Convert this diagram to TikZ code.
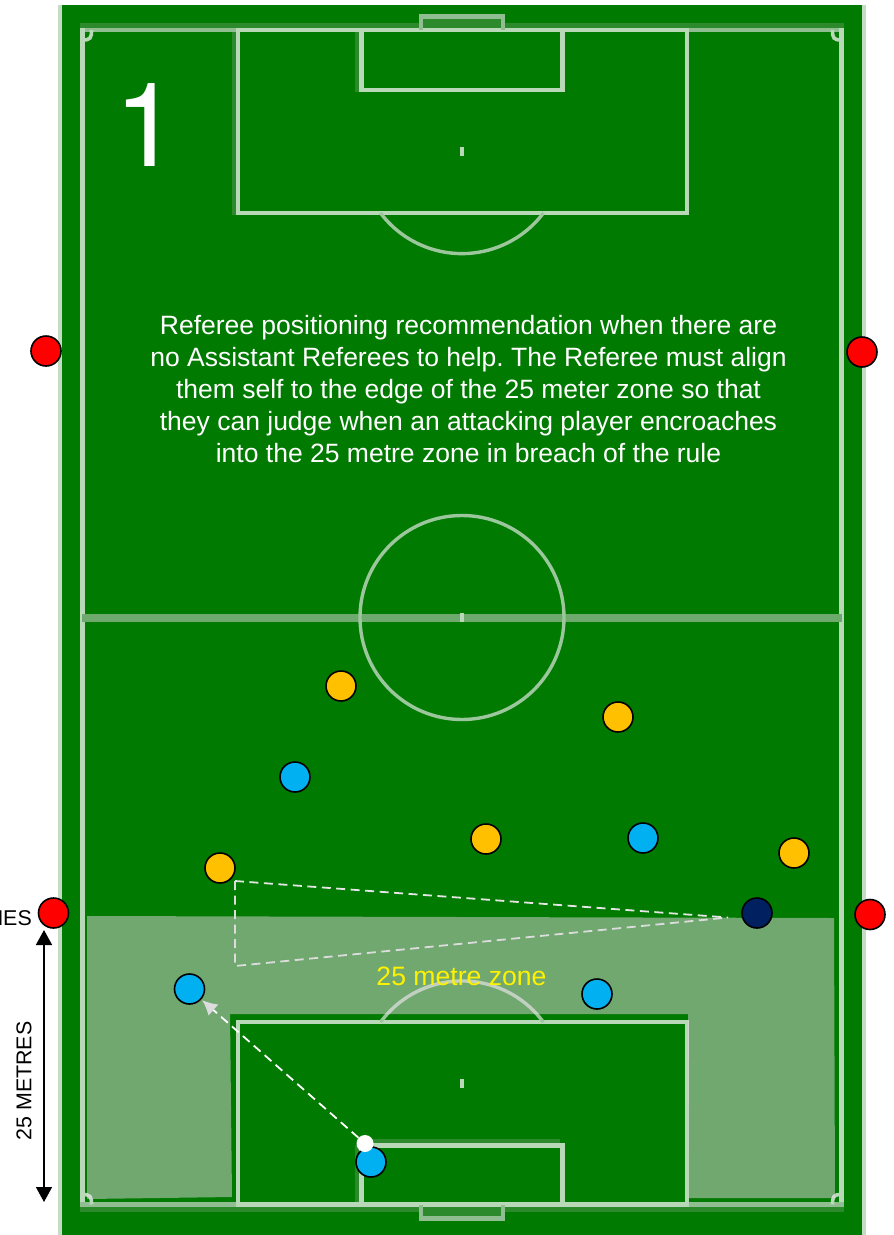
\documentclass[tikz,border=0pt]{standalone}
\usepackage{fontspec}
\setmainfont{Liberation Sans}
\newfontfamily\numberfont{TeX Gyre Heros}
\usepackage{xcolor}
\usetikzlibrary{arrows.meta}
\frenchspacing
\definecolor{pitchgreen}{HTML}{007A00}
\definecolor{linepale}{HTML}{B8D8B8}
\definecolor{linedim}{HTML}{90BE90}
\definecolor{lineshade}{HTML}{2C8A2C}
\definecolor{halfway}{HTML}{6EAA6E}
\definecolor{stripe}{HTML}{C4DCC4}
\definecolor{zonefill}{HTML}{EEDCEE}
\definecolor{refyellow}{HTML}{FFC000}
\definecolor{refblue}{HTML}{00B0F0}
\definecolor{refnavy}{HTML}{002060}
\definecolor{sightgrey}{HTML}{DCDCDC}

\begin{document}
\begin{tikzpicture}[x=1pt, y=-1pt,
    player/.style={circle, draw=black, line width=1.6pt, minimum size=30pt, inner sep=0pt, fill=#1},
    pitchline/.style={draw=linepale, line width=4.2pt},
    dimline/.style={draw=linedim, line width=4.2pt},
    arcline/.style={draw=linedim!70!linepale, line width=3.4pt},
    shadeline/.style={draw=lineshade, line width=4.5pt},
    sightline/.style={draw=sightgrey, line width=1.8pt, dash pattern=on 9pt off 5.5pt},
    caption/.style={font=\fontsize{21.4}{24}\selectfont, text=black, inner sep=0pt}]
    \useasboundingbox (0,0) rectangle (894,1235);
    \clip (0,0) rectangle (894,1235);

    % grass and side stripes
    \fill[pitchgreen] (58,5) rectangle (866,1235);
    \fill[stripe] (58,5) rectangle (62,1235);
    \fill[stripe] (862,5) rectangle (866,1235);

    % soft edges next to the lines
    \draw[shadeline] (80,25.5) -- (844,25.5);
    \draw[shadeline] (80,1209.5) -- (844,1209.5);
    \draw[shadeline] (234,28) -- (234,215);
    \draw[shadeline] (357.5,28) -- (357.5,92);
    \draw[shadeline] (357.5,1145) -- (357.5,1204);
    \draw[shadeline] (361,1141) -- (560,1141);
    \fill[lineshade] (421,18) rectangle (503,28);
    \fill[lineshade] (421,1207) rectangle (503,1216);

    % top half
    \draw[dimline] (80,30) -- (844,30);
    \draw[pitchline] (238,30) -- (687,30);
    \draw[pitchline, line width=5pt] (82.5,28) -- (82.5,1207);
    \draw[pitchline, line width=5pt] (841.5,28) -- (841.5,1207);
    \draw[pitchline] (238,28) -- (238,213) -- (687,213) -- (687,28);
    \draw[pitchline] (361.5,28) -- (361.5,90) -- (562.5,90) -- (562.5,28);
    \draw[dimline] (421,30) -- (421,16.5) -- (503,16.5) -- (503,30);
    \fill[linepale] (460,147) rectangle (464,156);
    \draw[arcline] (380.5,213) arc[start angle=143, end angle=37, radius=102];

    % middle
    \draw[draw=halfway, line width=8pt] (82,617.5) -- (842,617.5);
    \draw[arcline] (462,617.5) circle[radius=102];
    \fill[linepale] (460,613) rectangle (464,622);

    % bottom half
    \draw[dimline] (80,1204.5) -- (844,1204.5);
    \draw[pitchline] (238,1204.5) -- (687,1204.5);
    \draw[pitchline] (238,1207) -- (238,1022) -- (687,1022) -- (687,1207);
    \draw[pitchline] (361.5,1207) -- (361.5,1145.5) -- (562.5,1145.5) -- (562.5,1207);
    \draw[dimline] (421,1204.5) -- (421,1218.5) -- (503,1218.5) -- (503,1204.5);
    \fill[linepale] (460,1079) rectangle (464,1088);
    \draw[arcline] (380.7,1022) arc[start angle=-143.6, end angle=-36.4, radius=101];

    % corner marks
    \foreach \cx/\cy/\sx/\sy in {82.5/30/1/1, 841.5/30/-1/1, 82.5/1204.5/1/-1, 841.5/1204.5/-1/-1} {
        \draw[pitchline, line width=3.6pt] (\cx+\sx*9,\cy) .. controls (\cx+\sx*9,\cy+\sy*8) and (\cx+\sx*8,\cy+\sy*10) .. (\cx,\cy+\sy*10);
    }

    % the 25 metre zone
    \fill[zonefill, opacity=0.47] (87,916) -- (834,918) -- (835,1198) -- (689,1198) -- (688,1014)
        -- (230,1014) -- (232,1197) -- (87,1199) -- cycle;

    % texts
    \node[text=white, font=\numberfont\fontsize{117}{117}\selectfont, inner sep=0pt] (bignumber) at (147,125) {1};
    \node[text=white, font=\fontsize{26.5}{32}\selectfont, align=center, inner sep=0pt] (advice) at (468.5,389)
        {Referee positioning recommendation when there are\\
         no Assistant Referees to help. The Referee must align\\
         them self to the edge of the 25 meter zone so that\\
         they can judge when an attacking player encroaches\\
         into the 25 metre zone in breach of the rule};
    \node[text=yellow, font=\fontsize{26.6}{30}\selectfont, inner sep=0pt] (zonelabel) at (461.5,976) {25 metre zone};
    \node[caption, anchor=east] (edgelabel) at (32,918) {NES};
    \node[caption, rotate=90] (metreslabel) at (24,1081) {25 METRES};

    % assistant positions
    \foreach \n/\x/\y in {redtl/46/351, redtr/862/352, redbl/53.5/913, redbr/870/914.5} {
        \node[player=red] (\n) at (\x,\y) {};
    }
    % attackers, defenders and referee
    \foreach \n/\x/\y in {yelone/341/686, yeltwo/618/717, yelthree/486/839, yelfour/794/853, yelfive/220/868} {
        \node[player=refyellow] (\n) at (\x,\y) {};
    }
    \foreach \n/\x/\y in {bluone/295/777, blutwo/643/838, bluthree/597/994, blufour/189.5/989, blufive/371/1162} {
        \node[player=refblue] (\n) at (\x,\y) {};
    }
    \node[player=refnavy] (referee) at (757,913) {};
    \node[circle, fill=white, minimum size=17pt, inner sep=0pt] (ball) at (365,1143.5) {};

    % line of sight wedge
    \coordinate (sightapex) at (728,917.5);
    \coordinate (sighttop) at (235,881);
    \coordinate (sightbot) at (235,966);
    \draw[sightline] (sighttop) -- (sightbot) -- (sightapex);
    \draw[sightline, draw=white!90!black] (sighttop) -- (sightapex);

    % the pass
    \draw[sightline, draw=white, -{Latex[length=15pt, width=15pt, color=sightgrey]}, shorten >=1pt] (ball) -- (blufour);

    % the 25 metre arrow
    \draw[black, line width=1.5pt, {Triangle[length=15pt, width=16pt]}-{Triangle[length=15pt, width=16pt]}] (44,930) -- (44,1202);
\end{tikzpicture}
\end{document}
